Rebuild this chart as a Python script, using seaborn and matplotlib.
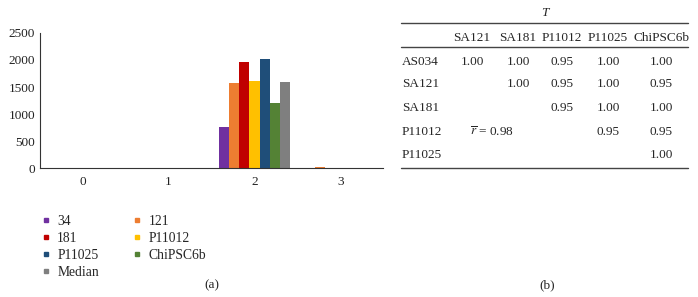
import pandas as pd
import matplotlib.pyplot as plt
import seaborn as sns
from matplotlib.lines import Line2D

sns.set_style('white')
plt.rcParams['font.family'] = ['Liberation Serif', 'DejaVu Serif']
plt.rcParams['mathtext.fontset'] = 'stix'

# bar chart data
categories = ['0', '1', '2', '3']
lines = ['34', '121', '181', 'P11012', 'P11025', 'ChiPSC6b', 'Median']
v_34 = [2, 2, 760, 8]
v_121 = [3, 3, 1570, 18]
v_181 = [2, 2, 1970, 8]
v_p11012 = [2, 3, 1610, 6]
v_p11025 = [2, 2, 2020, 10]
v_chi = [3, 4, 1210, 8]
v_median = [2, 3, 1600, 10]
colors = ['#7030A0', '#ED7D31', '#C00000', '#FFC000', '#1F4E79', '#548235', '#7F7F7F']

# table data
col_names = ['SA121', 'SA181', 'P11012', 'P11025', 'ChiPSC6b']
row_names = ['AS034', 'SA121', 'SA181', 'P11012', 'P11025']
cells = [['1.00', '1.00', '0.95', '1.00', '1.00'],
         ['', '1.00', '0.95', '1.00', '0.95'],
         ['', '', '0.95', '1.00', '1.00'],
         ['', '', '', '0.95', '0.95'],
         ['', '', '', '', '1.00']]

vals = [v_34, v_121, v_181, v_p11012, v_p11025, v_chi, v_median]
rows = []
for name, v in zip(lines, vals):
    for c, y in zip(categories, v):
        rows.append({'cat': c, 'line': name, 'value': y})
df = pd.DataFrame(rows)

fig = plt.figure(figsize=(6.98, 2.97), dpi=100)
ax = fig.add_axes([0.057, 0.434, 0.492, 0.455])
sns.barplot(data=df, x='cat', y='value', hue='line', hue_order=lines,
            palette=colors, width=0.83, saturation=1, linewidth=0,
            ax=ax, legend=False)
ax.set_ylim(0, 2500)
ax.set_yticks([0, 500, 1000, 1500, 2000, 2500])
ax.set_xlim(-0.5, 3.5)
ax.set_xlabel('')
ax.set_ylabel('')
ax.tick_params(length=0, labelsize=9.5, colors='#222222')
ax.tick_params(axis='x', pad=6)
for s in ['top', 'right']:
    ax.spines[s].set_visible(False)
for s in ['left', 'bottom']:
    ax.spines[s].set_color('#333333')
    ax.spines[s].set_linewidth(0.8)

# legend, filled row by row
order = [0, 2, 4, 6, 1, 3, 5]
handles = [Line2D([], [], marker='s', ls='', color=colors[i], markersize=3.5) for i in order]
fig.legend(handles, [lines[i] for i in order], ncol=2, frameon=False,
           loc='upper left', bbox_to_anchor=(0.038, 0.318), fontsize=9.8,
           handletextpad=0.35, columnspacing=2.3, labelspacing=0.3, handlelength=1)
fig.text(0.304, 0.03, '(a)', ha='center', fontsize=9.5)

# table
tx = fig.add_axes([0, 0, 1, 1], facecolor='none')
tx.set_axis_off()
tx.set_xlim(0, 698)
tx.set_ylim(297, 0)
fs = 9.5
tx.text(545, 13, 'T', ha='center', va='center', fontsize=fs, style='italic')
tx.plot([401, 688], [23, 23], color='#444444', lw=1)
tx.plot([401, 688], [47, 47], color='#444444', lw=1)
tx.plot([401, 688], [168, 168], color='#444444', lw=1)
col_x = [472, 518, 562, 608, 661]
row_y = [62, 84, 108, 132, 155]
for x, n in zip(col_x, col_names):
    tx.text(x, 38, n, ha='center', va='center', fontsize=fs)
for r, (y, n) in enumerate(zip(row_y, row_names)):
    tx.text(402, y, n, ha='left', va='center', fontsize=fs)
    for x, c in zip(col_x, cells[r]):
        if c:
            tx.text(x, y, c, ha='center', va='center', fontsize=fs)
tx.text(492, 132, r'$\overline{r}$ = 0.98', ha='center', va='center', fontsize=fs)
fig.text(547 / 698, 0.03, '(b)', ha='center', fontsize=9.5)

fig.savefig('out.png', dpi=100)
